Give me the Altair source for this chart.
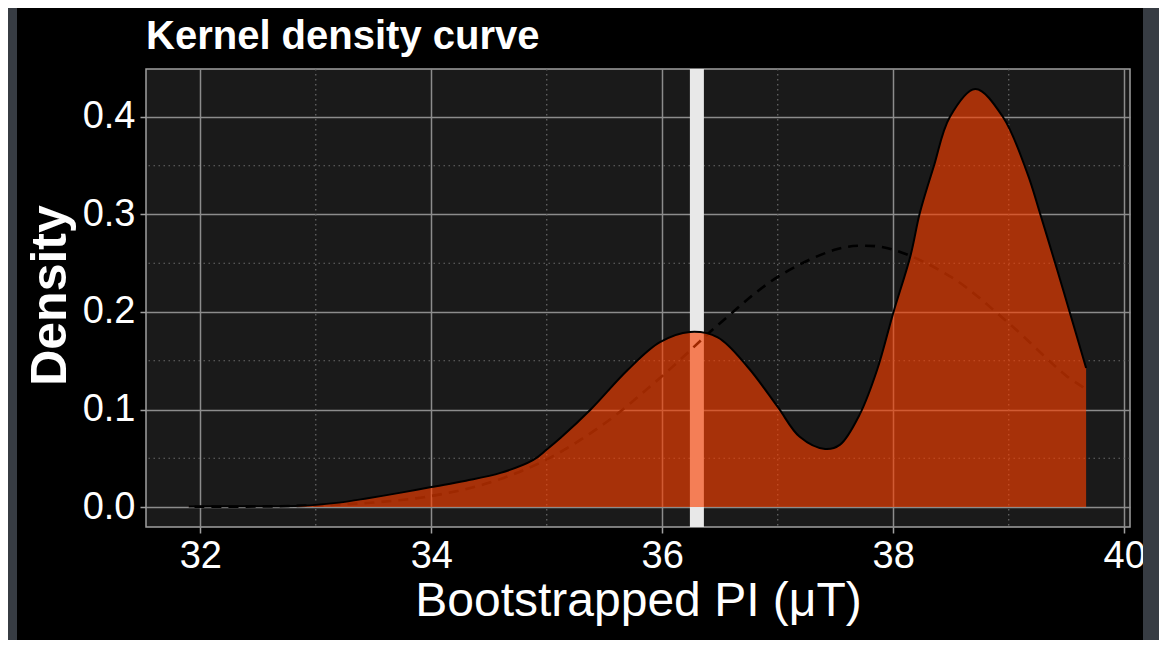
import altair as alt
import pandas as pd

# Kernel density estimate
kde_x = [31.90, 32.30, 32.87, 33.20, 33.45, 33.75, 34.00, 34.30, 34.60, 34.88, 35.00, 35.12,
         35.38, 35.70, 35.98, 36.24, 36.48, 36.74, 37.00, 37.19, 37.41, 37.54, 37.71, 37.86,
         38.00, 38.15, 38.23, 38.35, 38.49, 38.71, 38.95, 39.16, 39.27, 39.42, 39.53, 39.67]
kde_y = [0.0005, 0.0008, 0.0012, 0.0045, 0.009, 0.015, 0.0205, 0.027, 0.035, 0.048, 0.059, 0.071,
         0.100, 0.1405, 0.169, 0.1795, 0.174, 0.1436, 0.1026, 0.072, 0.0595, 0.064, 0.095, 0.1405,
         0.199, 0.258, 0.3015, 0.349, 0.400, 0.4287, 0.400, 0.3426, 0.3015, 0.243, 0.199, 0.1426]

# Dashed reference curve
norm_x = [31.95, 32.5, 33.0, 33.5, 34.0, 34.5, 35.0, 35.5, 36.0, 36.5, 37.0, 37.5, 37.75,
          38.0, 38.5, 39.0, 39.5, 39.67]
norm_y = [0.0002, 0.0005, 0.0017, 0.0046, 0.0113, 0.0248, 0.0488, 0.0857, 0.1344, 0.1885,
          0.236, 0.264, 0.268, 0.264, 0.236, 0.1885, 0.1344, 0.121]

marker_x = [36.30]
minor_x = [33, 35, 37, 39]
minor_y = [0.05, 0.15, 0.25, 0.35]
x_ticks = [32, 34, 36, 38, 40]
y_ticks = [0.0, 0.1, 0.2, 0.3, 0.4]
x_domain = [31.53, 40.05]
y_domain = [-0.0205, 0.4492]

kde_df = pd.DataFrame({"x": kde_x, "y": kde_y})
norm_df = pd.DataFrame({"x": norm_x, "y": norm_y})

xs = alt.Scale(domain=x_domain, nice=False, zero=False)
ys = alt.Scale(domain=y_domain, nice=False, zero=False)

xax = alt.Axis(values=x_ticks, format="d", title="Bootstrapped PI (\u03bcT)",
               titleX=492, titleY=88, titleBaseline="alphabetic", titleAlign="center",
               titleFontSize=48, titleFontWeight="normal", labelPadding=4)
yax = alt.Axis(values=y_ticks, format=".1f", title="Density",
               titleX=-81, titleY=226, titleBaseline="alphabetic", titleAlign="center",
               titleAngle=270, titleFontSize=50, titleFontWeight="bold", labelPadding=5)

X = alt.X("x:Q", scale=xs, axis=xax)
Y = alt.Y("y:Q", scale=ys, axis=yax)

one = pd.DataFrame({"a": [0]})

strip_l = alt.Chart(one).mark_rect(color="#373c43").encode(
    x=alt.value(-138), x2=alt.value(-129), y=alt.value(-61), y2=alt.value(571))
strip_r = alt.Chart(one).mark_rect(color="#373c43").encode(
    x=alt.value(997), x2=alt.value(1013), y=alt.value(-61), y2=alt.value(571))

minor_v = alt.Chart(pd.DataFrame({"x": minor_x})).mark_rule(
    color="#6a6a6a", strokeDash=[1.5, 3.5], strokeWidth=1.2).encode(x=X)
minor_h = alt.Chart(pd.DataFrame({"y": minor_y})).mark_rule(
    color="#6a6a6a", strokeDash=[1.5, 3.5], strokeWidth=1.2).encode(y=Y)

marker = alt.Chart(pd.DataFrame({"x": marker_x})).mark_rule(
    color="#e8e8e8", strokeWidth=14).encode(x=X)

norm_line = alt.Chart(norm_df).mark_line(
    color="black", strokeDash=[10, 7], strokeWidth=2.6, interpolate="catmull-rom").encode(x=X, y=Y)

area = alt.Chart(kde_df).mark_area(
    color="#fb4000", opacity=0.63, interpolate="catmull-rom").encode(x=X, y=Y)

kde_line = alt.Chart(kde_df).mark_line(
    color="black", strokeWidth=2, interpolate="catmull-rom").encode(x=X, y=Y)

chart = alt.layer(strip_l, strip_r, minor_v, minor_h, marker, norm_line, area, kde_line).properties(
    width=984, height=458,
    background="black",
    padding={"left": 138, "top": 61, "right": 29, "bottom": 113},
    autosize=alt.AutoSizeParams(type="none"),
    title=alt.TitleParams("Kernel density curve", anchor="start", frame="group",
                          fontSize=40, fontWeight="bold", color="white",
                          font="Liberation Sans", baseline="alphabetic", offset=-81),
).configure_view(
    fill="#1a1a1a", stroke="#a0a0a0", strokeWidth=1.5
).configure_axis(
    labelFont="Liberation Sans", titleFont="Liberation Sans",
    labelColor="white", titleColor="white", labelFontSize=38,
    tickColor="#a0a0a0", tickSize=6, tickWidth=1.5, domain=False,
    gridColor="#8c8c8c", gridWidth=1.5, grid=True,
)

chart.save("out.html", embed_options={"renderer": "svg", "actions": False})
